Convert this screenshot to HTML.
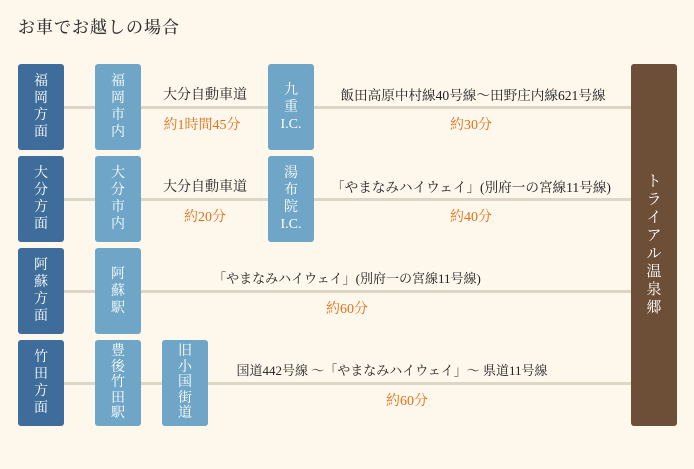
<!DOCTYPE html>
<html><head><meta charset="utf-8"><style>
body{margin:0;width:694px;height:469px;background:#fdf7ec;position:relative;overflow:hidden;font-family:"Liberation Serif","Noto Serif CJK SC",serif;}
.t{position:absolute;left:18px;top:13px;font-size:17px;color:#333;letter-spacing:1px;font-weight:500}
.b{position:absolute;width:46px;border-radius:3px;color:#fff;font-size:14px;line-height:17px;text-align:center;display:flex;align-items:center;justify-content:center}
.d{background:#3f6d9b}.l{background:#6fa6c7}
.ln{position:absolute;height:3px;background:#ddd5c6}
.x{position:absolute;font-size:14px;color:#222;white-space:nowrap;transform:translateX(-50%)}
.s{font-size:13.6px}
.o{position:absolute;font-size:14px;color:#e0701a;white-space:nowrap;transform:translateX(-50%)}
</style></head><body>
<div class="t">お車でお越しの場合</div>
<div class="ln" style="left:40px;width:600px;top:106px"></div>
<div class="ln" style="left:40px;width:600px;top:198px"></div>
<div class="ln" style="left:40px;width:600px;top:290px"></div>
<div class="ln" style="left:40px;width:600px;top:382px"></div>

<div class="b d" style="left:18px;top:64px;height:86px">福<br>岡<br>方<br>面</div>
<div class="b d" style="left:18px;top:156px;height:86px">大<br>分<br>方<br>面</div>
<div class="b d" style="left:18px;top:248px;height:86px">阿<br>蘇<br>方<br>面</div>
<div class="b d" style="left:18px;top:340px;height:86px">竹<br>田<br>方<br>面</div>

<div class="b l" style="left:95px;top:64px;height:86px">福<br>岡<br>市<br>内</div>
<div class="b l" style="left:95px;top:156px;height:86px">大<br>分<br>市<br>内</div>
<div class="b l" style="left:95px;top:248px;height:86px">阿<br>蘇<br>駅</div>
<div class="b l" style="left:95px;top:340px;height:86px;line-height:15.5px">豊<br>後<br>竹<br>田<br>駅</div>
<div class="b l" style="left:162px;top:340px;height:86px;line-height:15.5px">旧<br>小<br>国<br>街<br>道</div>
<div class="b l" style="left:268px;top:64px;height:86px">九<br>重<br>I.C.</div>
<div class="b l" style="left:268px;top:156px;height:86px">湯<br>布<br>院<br>I.C.</div>
<div class="b" style="left:631px;top:64px;height:362px;background:#6d4e37;font-size:15px;line-height:18px">ト<br>ラ<br>イ<br>ア<br>ル<br>温<br>泉<br>郷</div>

<div class="x" style="left:205px;top:84px">大分自動車道</div>
<div class="o" style="left:202px;top:114px">約1時間45分</div>
<div class="x" style="left:205px;top:176px">大分自動車道</div>
<div class="o" style="left:205px;top:206px">約20分</div>
<div class="x s" style="left:473px;top:84px">飯田高原中村線40号線〜田野庄内線621号線</div>
<div class="o" style="left:471px;top:114px">約30分</div>
<div class="x s" style="left:471px;top:176px">「やまなみハイウェイ」(別府一の宮線11号線)</div>
<div class="o" style="left:471px;top:206px">約40分</div>
<div class="x" style="left:347px;top:268px;font-size:13px">「やまなみハイウェイ」(別府一の宮線11号線)</div>
<div class="o" style="left:347px;top:298px">約60分</div>
<div class="x" style="left:392px;top:360px;font-size:13px">国道442号線 〜「やまなみハイウェイ」〜 県道11号線</div>
<div class="o" style="left:407px;top:390px">約60分</div>
</body></html>
